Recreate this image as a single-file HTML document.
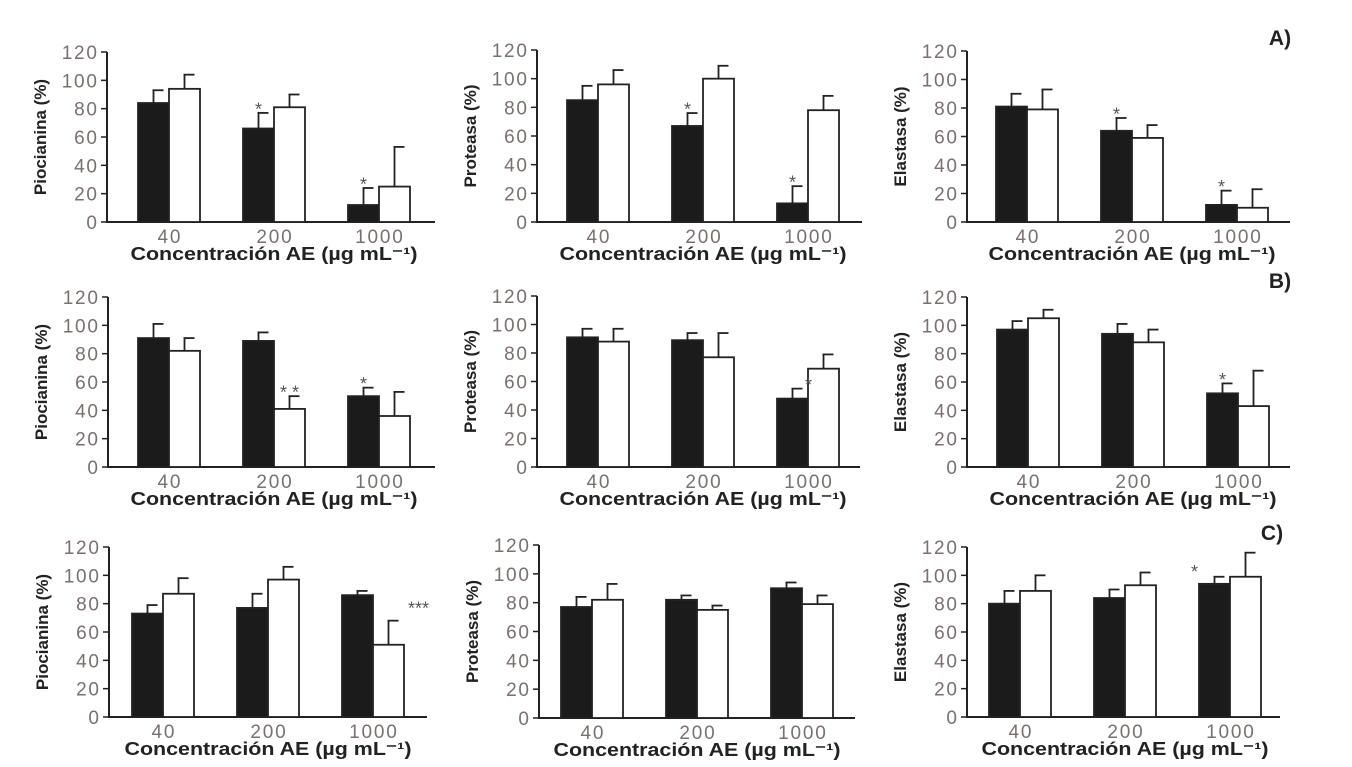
<!DOCTYPE html>
<html><head><meta charset="utf-8">
<style>
html,body{margin:0;padding:0;background:#fff;width:1352px;height:767px;overflow:hidden}
svg{display:block}
.tick{font-family:"Liberation Sans",sans-serif;font-size:19px;fill:#7a7070;letter-spacing:1.8px}
.ytitle{font-family:"Liberation Sans",sans-serif;font-size:17px;font-weight:bold;fill:#222}
.xtitle{font-family:"Liberation Sans",sans-serif;font-size:18px;font-weight:bold;fill:#222}
.star{font-family:"Liberation Sans",sans-serif;font-size:18px;fill:#555}
.plabel{font-family:"Liberation Sans",sans-serif;font-size:21px;font-weight:bold;fill:#222}
</style></head>
<body>
<svg id="fig" width="1352" height="767" viewBox="0 0 1352 767"></svg>
<script>
const categories = ["40","200","1000"];
const yTicks = [0,20,40,60,80,100,120];
const yTitles = ["Piocianina (%)","Proteasa (%)","Elastasa (%)"];
const blackVals = [[84,66,12],[85,67,13],[81,64,12],[91,89,50],[91,89,48],[97,94,52],[73,77,86],[77,82,90],[80,84,94]];
const whiteVals = [[94,81,25],[96,100,78],[79,59,10],[82,41,36],[88,77,69],[105,88,43],[87,97,51],[82,75,79],[89,93,99]];
const blackErr = [[93,77,24],[95,76,25],[90,73,22],[101,95,56],[97,94,55],[103,101,59],[79,87,89],[84,85,94],[89,90,99]];
const whiteErr = [[104,90,53],[106,109,88],[93,68,23],[91,50,53],[97,94,79],[111,97,68],[98,106,68],[93,78,85],[100,102,116]];
const stars = [[0,1,0,83,"*",0],[0,2,0,30,"*",0],[1,1,0,82,"*",0],[1,2,0,31,"*",0],[2,1,0,79,"*",0],[2,2,0,28,"*",0],
  [3,1,1,56,"* *",0],[3,2,0,62,"*",0],[4,2,0,61,"*",16],[5,2,0,65,"*",0],[6,2,1,80,"***",30],[8,2,0,106,"*",-20]];
const panelLabels = [["A)",1280,45],["B)",1280,288],["C)",1272,540]];
const panels = [[107,31,222,52,435],[537,30,222,50,862],[967,29,222,51,1290],
 [108,30,467,297,435],[537,30,467,296,860],[967,30,467,297,1290],
 [109,23,717,547,427],[539,22,718,545,855],[967,22,717,547,1280]];
const NS="http://www.w3.org/2000/svg";
const svg=document.getElementById('fig');
function mk(t,a,p){const e=document.createElementNS(NS,t);for(const k in a)e.setAttribute(k,a[k]);(p||svg).appendChild(e);return e;}
const BW=31, SP=105, LS=1.8;
panels.forEach((p,i)=>{
  const [x0,off,y0,y1,xe]=p;
  const g=mk('g',{});
  
  
  const y=v=>y0-(v/120)*(y0-y1);
  const xb=(c,s)=>x0+off+c*SP+s*BW;
  const ax=mk('path',{d:`M${x0},${y1}V${y0}H${xe}`,stroke:'#222','stroke-width':2,fill:'none'},g);
  
  
  yTicks.forEach(t=>{
    mk('line',{x1:x0-6,x2:x0,y1:y(t),y2:y(t),stroke:'#222','stroke-width':1.5},g);
    const tx=mk('text',{x:x0-10+LS,y:y(t)+7,'text-anchor':'end',class:'tick'},g);
    tx.textContent=t;
    
    
  });
  const yt=mk('text',{x:0,y:0,class:'ytitle','text-anchor':'middle',transform:`translate(${x0-61},${(y0+y1)/2}) rotate(-90)`},g);
  yt.textContent=yTitles[i%3];
  
  
  categories.forEach((c,ci)=>{
    [[blackVals,blackErr,'#1b1b1b'],[whiteVals,whiteErr,'#fff']].forEach((s,si)=>{
      const v=s[0][i][ci], e=s[1][i][ci], x=xb(ci,si);
      mk('line',{x1:x+BW/2,x2:x+BW/2,y1:y(v),y2:y(e),stroke:'#222','stroke-width':1.8},g);
      mk('line',{x1:x+BW/2-1,x2:x+BW/2+10,y1:y(e),y2:y(e),stroke:'#222','stroke-width':1.8},g);
      const r=mk('rect',{x:x,y:y(v),width:BW,height:y0-y(v),fill:s[2],stroke:'#222','stroke-width':1.8},g);
      
      
    });
    const lt=mk('text',{x:xb(ci,1)+LS/2,y:y0+21,'text-anchor':'middle',class:'tick'},g);
    lt.textContent=c;
    
    
  });
  const xt=mk('text',{x:x0+off+SP+BW,y:y0+38,'text-anchor':'middle',class:'xtitle',textLength:287,lengthAdjust:'spacingAndGlyphs'},g);
  xt.textContent='Concentración AE (µg mL⁻¹)';
  
  
  stars.filter(s=>s[0]===i).forEach(s=>{
    const st=mk('text',{x:xb(s[1],s[2])+BW/2+s[5],y:y(s[3])+11,'text-anchor':'middle',class:'star'},g);
    st.textContent=s[4];
    
    
  });
});
panelLabels.forEach(l=>{
  const t=mk('text',{x:l[1],y:l[2],'text-anchor':'middle',class:'plabel'});
  t.textContent=l[0];
  
  
});
</script>
</body></html>
